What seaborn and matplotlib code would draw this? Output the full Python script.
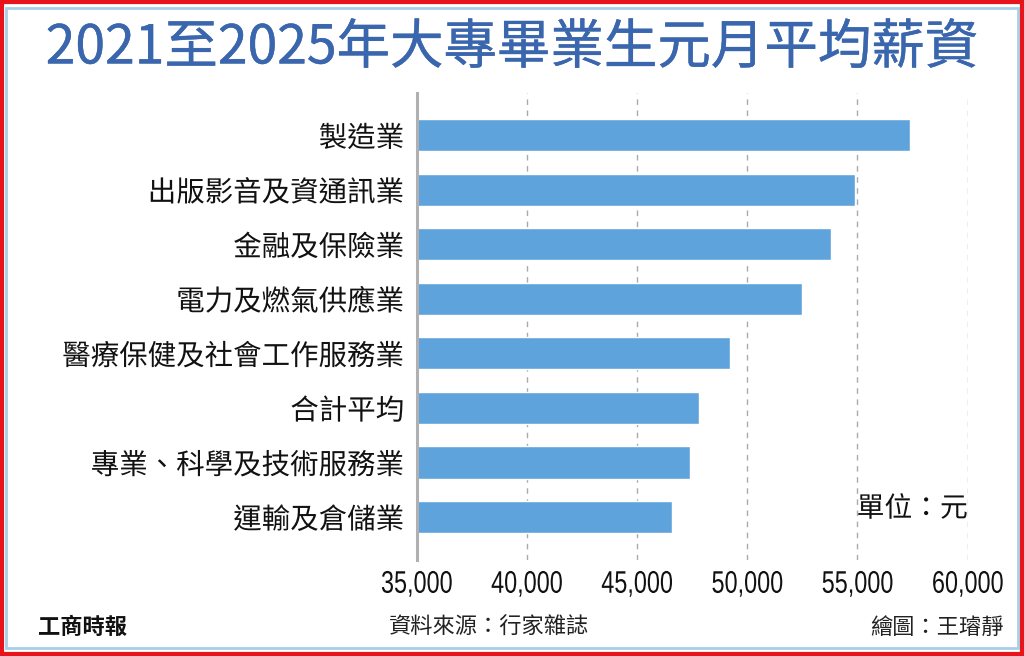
import matplotlib
matplotlib.use("Agg")
import matplotlib.pyplot as plt
from matplotlib import patheffects
from matplotlib.patches import Rectangle
from matplotlib.transforms import Affine2D
import seaborn as sns
import pandas as pd

industries = ["製造業", "出版影音及資通訊業", "金融及保險業", "電力及燃氣供應業",
              "醫療保健及社會工作服務業", "合計平均", "專業、科學及技術服務業", "運輸及倉儲業"]
salaries = [57400, 54900, 53800, 52500, 49200, 47800, 47400, 46600]
xticks = [35000, 40000, 45000, 50000, 55000, 60000]


class Narrow(patheffects.AbstractPathEffect):
    # squeeze text horizontally around its centre (narrow digit look)
    def __init__(self, sx=0.75):
        super().__init__()
        self.sx = sx

    def draw_path(self, renderer, gc, tpath, affine, rgbFace=None):
        ext = tpath.get_extents()
        cx = (ext.x0 + ext.x1) / 2
        squeeze = Affine2D().translate(-cx, 0).scale(self.sx, 1).translate(cx, 0)
        renderer.draw_path(gc, tpath, squeeze + affine, rgbFace)


df = pd.DataFrame({"industry": industries, "salary": salaries})

sns.set_theme(style="white")
plt.rcParams["font.family"] = ["Noto Sans CJK TC", "DejaVu Sans"]

fig = plt.figure(figsize=(10.24, 6.56), dpi=100)
ax = fig.add_axes([0.407, 0.1463, 0.538, 0.7124])

sns.barplot(data=df, x="salary", y="industry", orient="h", color="#5fa3dc",
            saturation=1, width=0.59, ax=ax)

ax.set_xlim(35000, 60000)
ax.set_ylim(7.79, -0.78)
ax.set_xticks(xticks)
ax.set_xticklabels([f"{v:,}" for v in xticks], family=["Liberation Sans", "DejaVu Sans"],
                   fontsize=22.5, color="#111111", path_effects=[Narrow(0.75)])
ax.tick_params(axis="x", length=0, pad=7)
ax.tick_params(axis="y", length=0, pad=9, labelsize=20.5)
for lab in ax.get_yticklabels():
    lab.set_color("#111111")
    lab.set_path_effects([patheffects.Normal()])
ax.set_xlabel("")
ax.set_ylabel("")

ax.grid(axis="x", linestyle=(0, (4, 4)), color="#aaaaaa", linewidth=1)
ax.set_axisbelow(True)
for s in ["top", "right", "bottom"]:
    ax.spines[s].set_visible(False)
ax.spines["left"].set_color("#b0b0b0")
ax.spines["left"].set_linewidth(2.2)

ax.text(1.0, 0.11, "單位：元", transform=ax.transAxes, ha="right", va="center",
        fontsize=20, color="#111111", path_effects=[patheffects.Normal()])

fig.text(0.5, 0.927, "2021至2025年大專畢業生元月平均薪資", ha="center", va="center",
         fontsize=38.5, color="#3a66ae",
         path_effects=[patheffects.withStroke(linewidth=0.3, foreground="#3a66ae")])

fig.text(0.037, 0.044, "工商時報", ha="left", va="center", fontsize=16,
         fontweight="black", color="#111111")
fig.text(0.478, 0.044, "資料來源：行家雜誌", ha="center", va="center", fontsize=16,
         color="#222222")
fig.text(0.98, 0.044, "繪圖：王璿靜", ha="right", va="center", fontsize=16,
         color="#222222")

# frames
fig.patches.append(Rectangle((0.006, 0.012), 0.988, 0.976, transform=fig.transFigure,
                             fill=False, edgecolor="#a9cfe6", linewidth=2))
fig.patches.append(Rectangle((0.0015, 0.0023), 0.997, 0.9954, transform=fig.transFigure,
                             fill=False, edgecolor="#e8141c", linewidth=3))

fig.savefig("out.png", dpi=100)
